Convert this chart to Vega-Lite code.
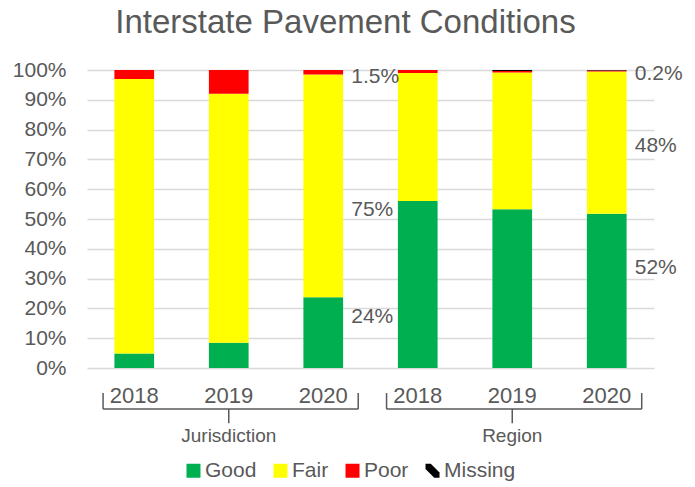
{
  "$schema": "https://vega.github.io/schema/vega-lite/v6.json",
  "width": 567,
  "height": 298,
  "autosize": "none",
  "padding": {"left": 87, "top": 70, "right": 41, "bottom": 119},
  "config": {
    "font": "Liberation Sans",
    "view": {"stroke": null},
    "axisY": {
      "title": null,
      "labelExpr": "datum.value + '%'",
      "labelFontSize": 21,
      "labelColor": "#595959",
      "labelPadding": 21,
      "labelOverlap": false,
      "ticks": false,
      "domain": false,
      "grid": true,
      "gridColor": "#d9d9d9",
      "gridWidth": 1.3
    }
  },
  "title": {
    "text": "Interstate Pavement Conditions",
    "fontSize": 33,
    "fontWeight": "normal",
    "color": "#595959",
    "anchor": "middle",
    "frame": "group",
    "dx": -25,
    "offset": 19
  },
  "datasets": {
    "bars": [
      {"bar": "Jurisdiction 2018", "status": "Good", "pct": 4.9},
      {"bar": "Jurisdiction 2018", "status": "Fair", "pct": 92.1},
      {"bar": "Jurisdiction 2018", "status": "Poor", "pct": 3.0},
      {"bar": "Jurisdiction 2019", "status": "Good", "pct": 8.5},
      {"bar": "Jurisdiction 2019", "status": "Fair", "pct": 83.5},
      {"bar": "Jurisdiction 2019", "status": "Poor", "pct": 8.0},
      {"bar": "Jurisdiction 2020", "status": "Good", "pct": 23.7},
      {"bar": "Jurisdiction 2020", "status": "Fair", "pct": 74.8},
      {"bar": "Jurisdiction 2020", "status": "Poor", "pct": 1.5},
      {"bar": "Region 2018", "status": "Good", "pct": 56.0},
      {"bar": "Region 2018", "status": "Fair", "pct": 43.0},
      {"bar": "Region 2018", "status": "Poor", "pct": 1.0},
      {"bar": "Region 2019", "status": "Good", "pct": 53.3},
      {"bar": "Region 2019", "status": "Fair", "pct": 45.9},
      {"bar": "Region 2019", "status": "Poor", "pct": 0.5},
      {"bar": "Region 2019", "status": "Missing", "pct": 0.3},
      {"bar": "Region 2020", "status": "Good", "pct": 51.8},
      {"bar": "Region 2020", "status": "Fair", "pct": 47.7},
      {"bar": "Region 2020", "status": "Poor", "pct": 0.3},
      {"bar": "Region 2020", "status": "Missing", "pct": 0.2}
    ],
    "labels": [
      {"bar": "Jurisdiction 2020", "text": "1.5%", "at": 97.7},
      {"bar": "Jurisdiction 2020", "text": "75%", "at": 53},
      {"bar": "Jurisdiction 2020", "text": "24%", "at": 17},
      {"bar": "Region 2020", "text": "0.2%", "at": 98.7},
      {"bar": "Region 2020", "text": "48%", "at": 74.5},
      {"bar": "Region 2020", "text": "52%", "at": 33.5}
    ],
    "groups": [
      {"group": "Jurisdiction", "first": "Jurisdiction 2018", "mid": "Jurisdiction 2019", "last": "Jurisdiction 2020"},
      {"group": "Region", "first": "Region 2018", "mid": "Region 2019", "last": "Region 2020"}
    ]
  },
  "layer": [
    {
      "data": {"name": "bars"},
      "transform": [
        {"calculate": "indexof(['Good','Fair','Poor','Missing'], datum.status)", "as": "rank"}
      ],
      "mark": {"type": "bar", "width": {"band": 0.42}},
      "encoding": {
        "x": {
          "field": "bar",
          "type": "nominal",
          "scale": {
            "domain": ["Jurisdiction 2018", "Jurisdiction 2019", "Jurisdiction 2020", "Region 2018", "Region 2019", "Region 2020"],
            "paddingInner": 0,
            "paddingOuter": 0
          },
          "axis": {
            "title": null,
            "labelAngle": 0,
            "labelExpr": "slice(datum.label, -4)",
            "labelFontSize": 22,
            "labelColor": "#595959",
            "labelPadding": 17,
            "ticks": false,
            "domain": false,
            "grid": false
          }
        },
        "y": {
          "field": "pct",
          "type": "quantitative",
          "stack": "zero",
          "scale": {"domain": [0, 100], "nice": false},
          "axis": {"values": [0, 10, 20, 30, 40, 50, 60, 70, 80, 90, 100]}
        },
        "color": {
          "field": "status",
          "type": "nominal",
          "scale": {
            "domain": ["Good", "Fair", "Poor", "Missing"],
            "range": ["#00B050", "#FFFF00", "#FF0000", "#000000"]
          },
          "legend": {
            "orient": "none",
            "direction": "horizontal",
            "legendX": 96,
            "legendY": 390,
            "title": null,
            "padding": 0,
            "labelFontSize": 21,
            "labelColor": "#595959",
            "labelOffset": 1,
            "columnPadding": 13,
            "symbolSize": 196,
            "symbolType": "square",
            "symbolStrokeWidth": 0,
            "encode": {
              "symbols": {
                "update": {
                  "shape": {"signal": "datum.label === 'Missing' ? 'M-1,-1L-0.25,-1L1,0.25L1,1L0.25,1L-1,-0.25Z' : 'square'"}
                }
              }
            }
          }
        },
        "order": {"field": "rank", "type": "quantitative"}
      }
    },
    {
      "data": {"name": "labels"},
      "mark": {"type": "text", "align": "left", "baseline": "middle", "dx": 28, "fontSize": 21, "color": "#595959"},
      "encoding": {
        "x": {"field": "bar", "type": "nominal"},
        "y": {"field": "at", "type": "quantitative", "axis": {"values": [0, 10, 20, 30, 40, 50, 60, 70, 80, 90, 100]}},
        "text": {"field": "text"}
      }
    },
    {
      "data": {"name": "groups"},
      "mark": {"type": "rule", "color": "#595959", "strokeWidth": 1.5},
      "encoding": {
        "x": {"field": "first", "type": "nominal", "bandPosition": 0.17},
        "x2": {"field": "last", "bandPosition": 0.87},
        "y": {"datum": -13.8, "type": "quantitative", "axis": {"values": [0, 10, 20, 30, 40, 50, 60, 70, 80, 90, 100]}}
      }
    },
    {
      "data": {"name": "groups"},
      "mark": {"type": "rule", "color": "#595959", "strokeWidth": 1.5},
      "encoding": {
        "x": {"field": "first", "type": "nominal", "bandPosition": 0.17},
        "y": {"datum": -8.4, "type": "quantitative", "axis": {"values": [0, 10, 20, 30, 40, 50, 60, 70, 80, 90, 100]}},
        "y2": {"datum": -13.8}
      }
    },
    {
      "data": {"name": "groups"},
      "mark": {"type": "rule", "color": "#595959", "strokeWidth": 1.5},
      "encoding": {
        "x": {"field": "last", "type": "nominal", "bandPosition": 0.87},
        "y": {"datum": -8.4, "type": "quantitative", "axis": {"values": [0, 10, 20, 30, 40, 50, 60, 70, 80, 90, 100]}},
        "y2": {"datum": -13.8}
      }
    },
    {
      "data": {"name": "groups"},
      "mark": {"type": "rule", "color": "#595959", "strokeWidth": 1.5},
      "encoding": {
        "x": {"field": "mid", "type": "nominal", "bandPosition": 0.5},
        "y": {"datum": -13.8, "type": "quantitative", "axis": {"values": [0, 10, 20, 30, 40, 50, 60, 70, 80, 90, 100]}},
        "y2": {"datum": -18.5}
      }
    },
    {
      "data": {"name": "groups"},
      "mark": {"type": "text", "align": "center", "baseline": "middle", "fontSize": 19, "color": "#595959"},
      "encoding": {
        "x": {"field": "mid", "type": "nominal"},
        "y": {"datum": -22.8, "type": "quantitative", "axis": {"values": [0, 10, 20, 30, 40, 50, 60, 70, 80, 90, 100]}},
        "text": {"field": "group"}
      }
    }
  ]
}
